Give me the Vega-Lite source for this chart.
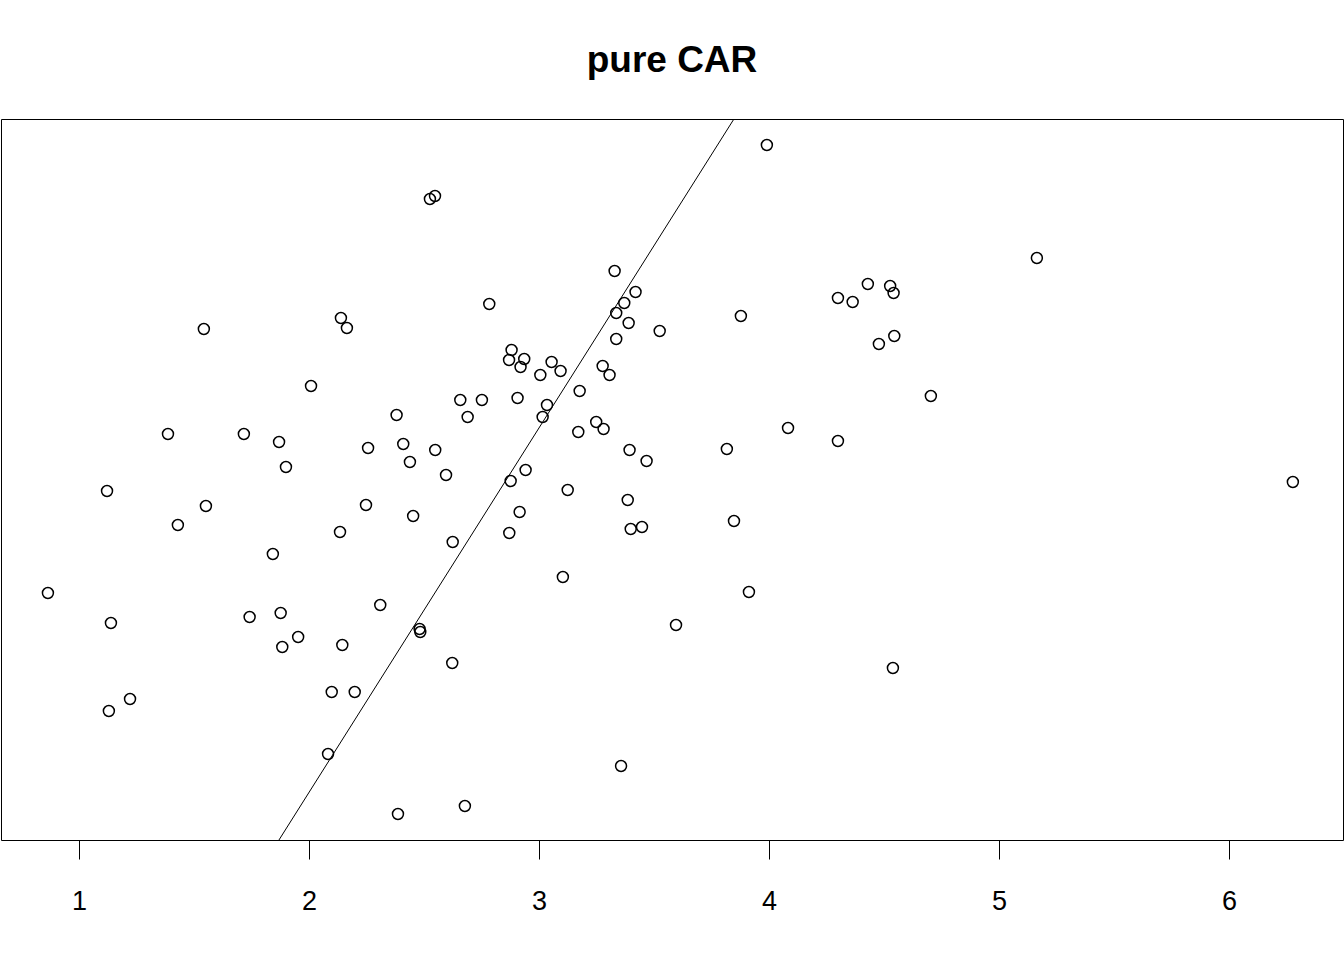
{
  "$schema": "https://vega.github.io/schema/vega-lite/v6.json",
  "width": 1342,
  "height": 721,
  "autosize": "none",
  "padding": {"left": 1, "top": 119, "right": 1, "bottom": 120},
  "background": "white",
  "config": {
    "view": {"stroke": "black", "strokeWidth": 1},
    "font": "Liberation Sans"
  },
  "title": {
    "text": "pure CAR",
    "font": "Liberation Sans",
    "fontSize": 37,
    "fontWeight": "bold",
    "color": "black",
    "anchor": "middle",
    "baseline": "alphabetic",
    "offset": 10
  },
  "datasets": {
    "pts": [
      {"x": 3.991, "y": 6.95}, {"x": 2.526, "y": 6.41}, {"x": 2.548, "y": 6.44}, {"x": 5.165, "y": 5.82},
      {"x": 3.329, "y": 5.69}, {"x": 2.784, "y": 5.36}, {"x": 3.420, "y": 5.48}, {"x": 3.371, "y": 5.37},
      {"x": 3.336, "y": 5.27}, {"x": 3.390, "y": 5.17}, {"x": 3.878, "y": 5.24}, {"x": 4.300, "y": 5.42},
      {"x": 4.364, "y": 5.38}, {"x": 4.430, "y": 5.56}, {"x": 4.527, "y": 5.54}, {"x": 4.542, "y": 5.47},
      {"x": 4.545, "y": 5.04}, {"x": 4.478, "y": 4.96}, {"x": 3.525, "y": 5.09}, {"x": 1.543, "y": 5.11},
      {"x": 2.139, "y": 5.22}, {"x": 2.165, "y": 5.12}, {"x": 3.336, "y": 5.01}, {"x": 2.881, "y": 4.90},
      {"x": 2.870, "y": 4.80}, {"x": 2.936, "y": 4.81}, {"x": 2.920, "y": 4.73}, {"x": 3.055, "y": 4.78},
      {"x": 3.094, "y": 4.69}, {"x": 3.006, "y": 4.65}, {"x": 3.277, "y": 4.74}, {"x": 3.307, "y": 4.65},
      {"x": 2.009, "y": 4.54}, {"x": 3.177, "y": 4.49}, {"x": 4.704, "y": 4.44}, {"x": 2.658, "y": 4.40},
      {"x": 2.752, "y": 4.40}, {"x": 2.907, "y": 4.42}, {"x": 3.035, "y": 4.35}, {"x": 3.016, "y": 4.23},
      {"x": 2.381, "y": 4.25}, {"x": 2.690, "y": 4.23}, {"x": 4.083, "y": 4.12}, {"x": 3.171, "y": 4.08},
      {"x": 3.249, "y": 4.18}, {"x": 3.281, "y": 4.11}, {"x": 1.387, "y": 4.06}, {"x": 1.717, "y": 4.06},
      {"x": 1.870, "y": 3.98}, {"x": 2.410, "y": 3.96}, {"x": 4.300, "y": 3.99}, {"x": 2.257, "y": 3.92},
      {"x": 2.549, "y": 3.90}, {"x": 3.394, "y": 3.90}, {"x": 3.817, "y": 3.91}, {"x": 2.439, "y": 3.78},
      {"x": 3.468, "y": 3.79}, {"x": 1.900, "y": 3.73}, {"x": 2.596, "y": 3.65}, {"x": 2.942, "y": 3.70},
      {"x": 2.877, "y": 3.59}, {"x": 6.278, "y": 3.58}, {"x": 1.122, "y": 3.49}, {"x": 3.125, "y": 3.50},
      {"x": 3.386, "y": 3.40}, {"x": 1.552, "y": 3.34}, {"x": 2.248, "y": 3.35}, {"x": 2.453, "y": 3.24},
      {"x": 2.916, "y": 3.28}, {"x": 3.848, "y": 3.19}, {"x": 1.430, "y": 3.15}, {"x": 3.399, "y": 3.11},
      {"x": 3.448, "y": 3.13}, {"x": 2.135, "y": 3.08}, {"x": 2.871, "y": 3.07}, {"x": 2.625, "y": 2.98},
      {"x": 1.843, "y": 2.86}, {"x": 3.104, "y": 2.63}, {"x": 0.865, "y": 2.47}, {"x": 3.913, "y": 2.48},
      {"x": 2.310, "y": 2.35}, {"x": 1.742, "y": 2.23}, {"x": 1.877, "y": 2.27}, {"x": 1.139, "y": 2.17},
      {"x": 3.596, "y": 2.15}, {"x": 2.481, "y": 2.11}, {"x": 2.484, "y": 2.08}, {"x": 1.953, "y": 2.03},
      {"x": 1.884, "y": 1.93}, {"x": 2.145, "y": 1.95}, {"x": 2.623, "y": 1.77}, {"x": 4.539, "y": 1.72},
      {"x": 2.099, "y": 1.48}, {"x": 2.199, "y": 1.48}, {"x": 1.222, "y": 1.41}, {"x": 1.130, "y": 1.29},
      {"x": 2.083, "y": 0.86}, {"x": 3.357, "y": 0.74}, {"x": 2.678, "y": 0.34}, {"x": 2.387, "y": 0.26}
    ],
    "fit": [
      {"x": 1.8696, "y": 0},
      {"x": 3.8478, "y": 7.21}
    ]
  },
  "layer": [
    {
      "data": {"name": "pts"},
      "mark": {"type": "point", "shape": "circle", "filled": false, "stroke": "black", "strokeWidth": 1.5, "size": 120, "opacity": 1},
      "encoding": {
        "x": {
          "field": "x", "type": "quantitative",
          "scale": {"domain": [0.661, 6.496], "nice": false, "zero": false},
          "axis": {
            "values": [1, 2, 3, 4, 5, 6],
            "format": "d",
            "title": null,
            "grid": false,
            "domain": false,
            "ticks": true,
            "tickSize": 19,
            "tickColor": "black",
            "tickWidth": 1,
            "labelFont": "Liberation Sans",
            "labelFontSize": 27,
            "labelColor": "black",
            "labelPadding": 29,
            "labelFlush": false,
            "labelOverlap": false
          }
        },
        "y": {
          "field": "y", "type": "quantitative",
          "scale": {"domain": [0, 7.21], "nice": false, "zero": false},
          "axis": null
        }
      }
    },
    {
      "data": {"name": "fit"},
      "mark": {"type": "line", "color": "black", "strokeWidth": 1, "clip": true},
      "encoding": {
        "x": {"field": "x", "type": "quantitative"},
        "y": {"field": "y", "type": "quantitative"}
      }
    }
  ]
}
